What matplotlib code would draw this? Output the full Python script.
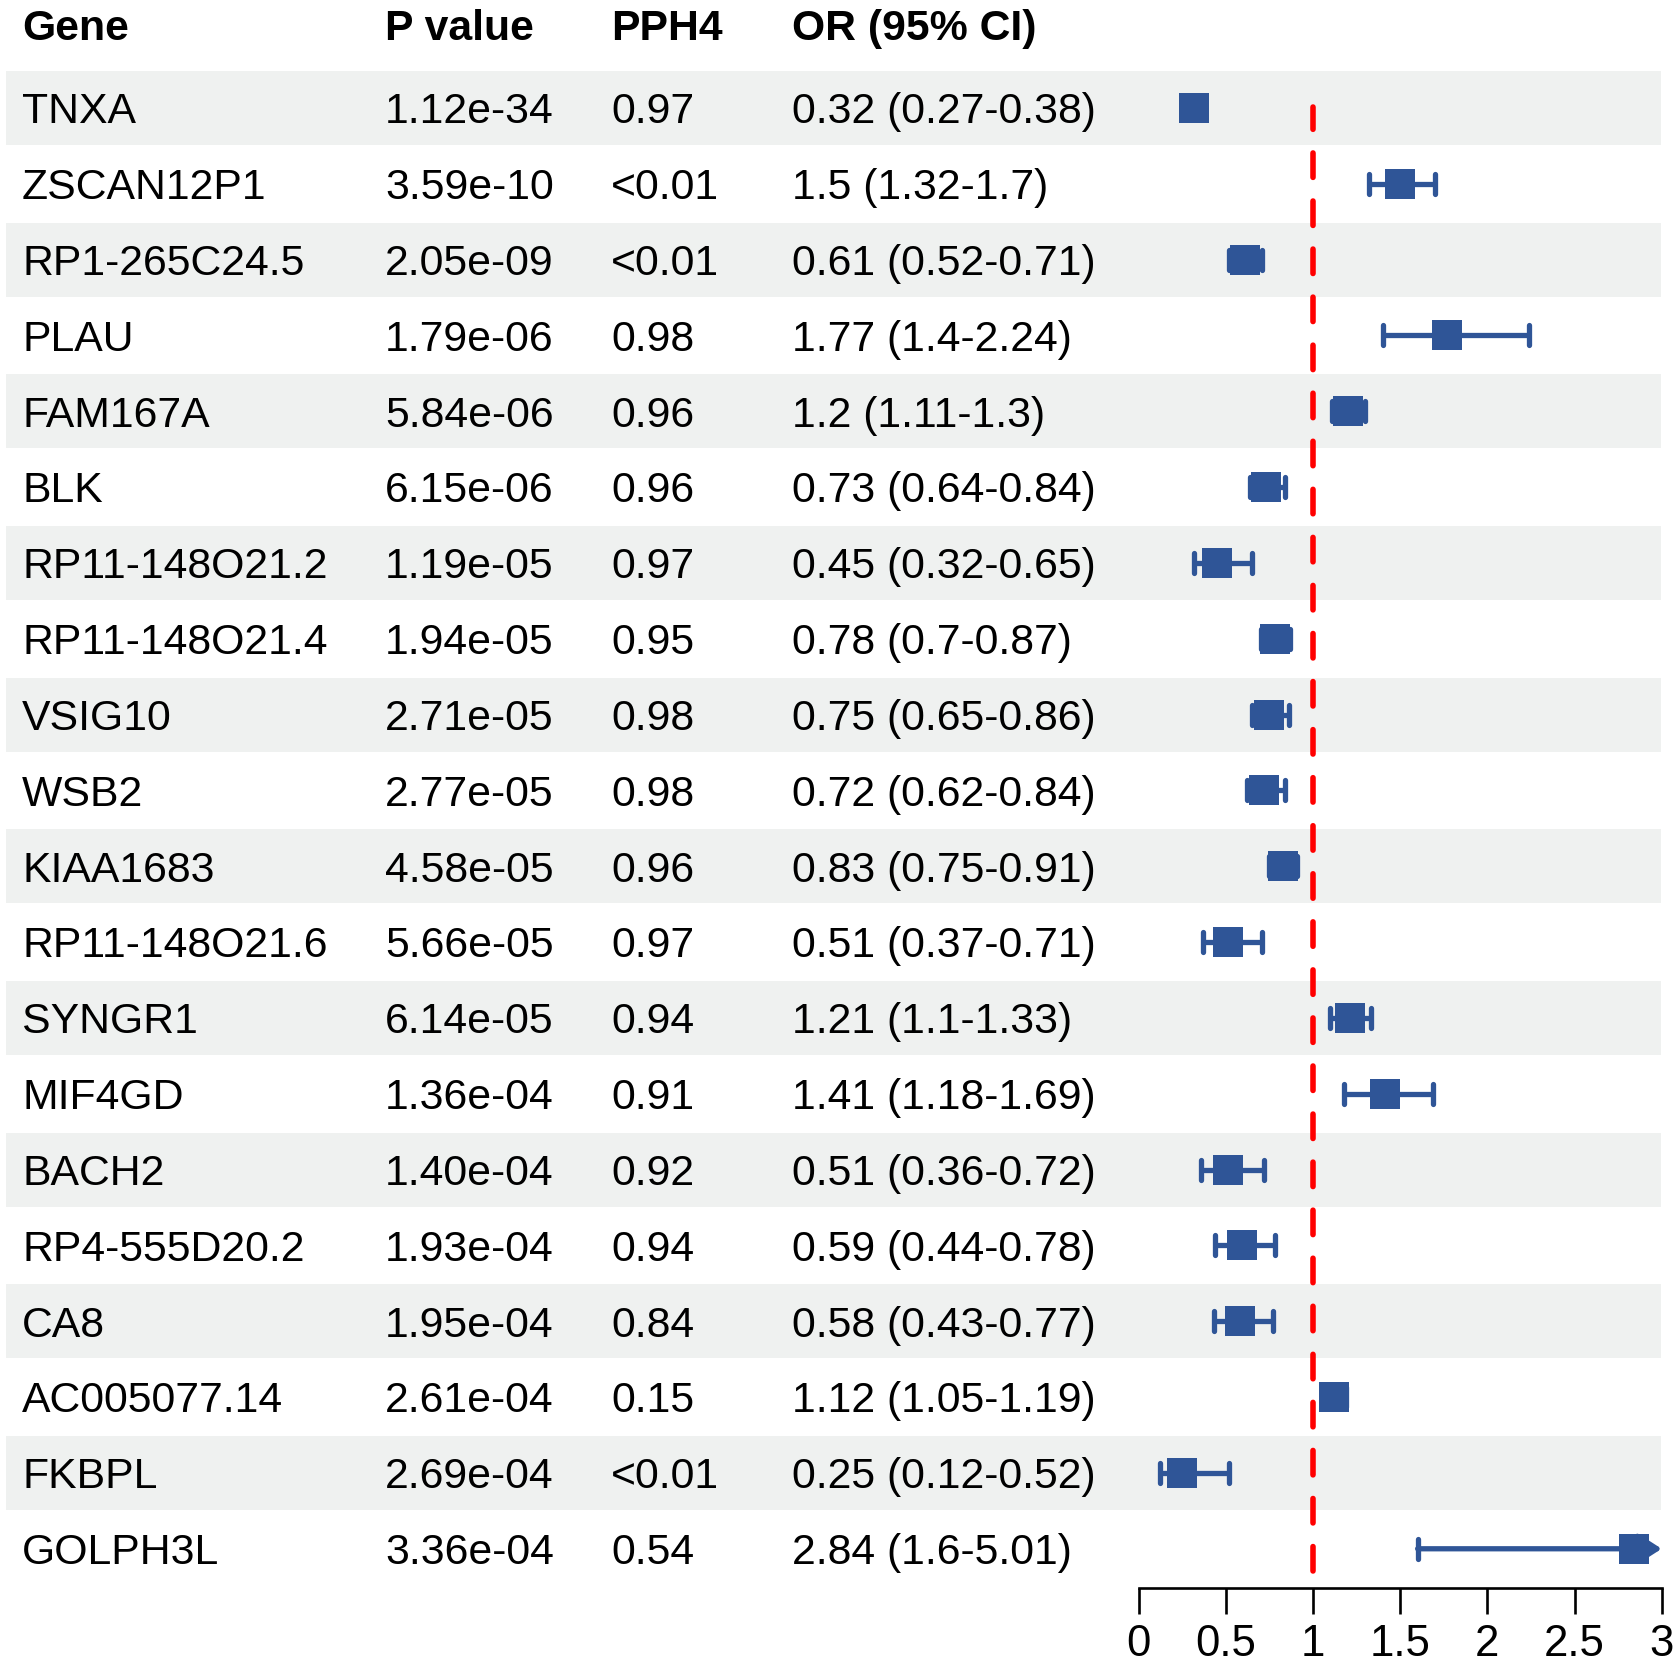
import matplotlib
matplotlib.use("Agg")
import matplotlib.pyplot as plt
from matplotlib.markers import MarkerStyle
import numpy as np

plt.rcParams['font.family'] = ['Liberation Sans', 'DejaVu Sans']

# ---------------- data ----------------
genes = ["TNXA", "ZSCAN12P1", "RP1-265C24.5", "PLAU", "FAM167A", "BLK",
         "RP11-148O21.2", "RP11-148O21.4", "VSIG10", "WSB2", "KIAA1683",
         "RP11-148O21.6", "SYNGR1", "MIF4GD", "BACH2", "RP4-555D20.2", "CA8",
         "AC005077.14", "FKBPL", "GOLPH3L"]
pvalues = ["1.12e-34", "3.59e-10", "2.05e-09", "1.79e-06", "5.84e-06", "6.15e-06",
           "1.19e-05", "1.94e-05", "2.71e-05", "2.77e-05", "4.58e-05", "5.66e-05",
           "6.14e-05", "1.36e-04", "1.40e-04", "1.93e-04", "1.95e-04", "2.61e-04",
           "2.69e-04", "3.36e-04"]
pph4 = ["0.97", "<0.01", "<0.01", "0.98", "0.96", "0.96", "0.97", "0.95", "0.98",
        "0.98", "0.96", "0.97", "0.94", "0.91", "0.92", "0.94", "0.84", "0.15",
        "<0.01", "0.54"]
or_est = [0.32, 1.5, 0.61, 1.77, 1.2, 0.73, 0.45, 0.78, 0.75, 0.72, 0.83, 0.51,
          1.21, 1.41, 0.51, 0.59, 0.58, 1.12, 0.25, 2.84]
or_low = [0.27, 1.32, 0.52, 1.4, 1.11, 0.64, 0.32, 0.7, 0.65, 0.62, 0.75, 0.37,
          1.1, 1.18, 0.36, 0.44, 0.43, 1.05, 0.12, 1.6]
or_high = [0.38, 1.7, 0.71, 2.24, 1.3, 0.84, 0.65, 0.87, 0.86, 0.84, 0.91, 0.71,
           1.33, 1.69, 0.72, 0.78, 0.77, 1.19, 0.52, 5.01]
headers = ["Gene", "P value", "PPH4", "OR (95% CI)"]
xticks = [0, 0.5, 1, 1.5, 2, 2.5, 3]
xtick_labels = ["0", "0.5", "1", "1.5", "2", "2.5", "3"]
ref_value = 1

# ---------------- layout ----------------
W, H = 1680, 1664
row0_px, step_px = 108.0, 75.83
axis_px = 1588.0
top_px = row0_px - 0.5 * step_px
n = len(genes)
idx = np.arange(n)
y_bottom = (axis_px - row0_px) / step_px

BLUE = "#2F5597"
BAND = "#EFF1F0"
FS = 30.8

fig = plt.figure(figsize=(W / 100, H / 100), dpi=100)
ax_bottom = 1 - axis_px / H
ax_height = (axis_px - top_px) / H

# background/table axes (x in pixels)
tax = fig.add_axes([0, ax_bottom, 1, ax_height])
tax.set_xlim(0, W)
tax.set_ylim(y_bottom, -0.5)
tax.axis("off")

band_left, band_right = 6, 1661
tax.barh(idx[::2], width=band_right - band_left, left=band_left,
         height=74 / step_px, color=BAND, zorder=0, linewidth=0)

col_x = [22, 385, 611, 792]
or_text = [f"{e:g} ({l:g}-{h:g})" for e, l, h in zip(or_est, or_low, or_high)]
columns = [genes, pvalues, pph4, or_text]
base_off = 15.3 / step_px
for cx, hdr, vals in zip(col_x, headers, columns):
    tax.text(cx, (40 - row0_px) / step_px, hdr, fontsize=FS, fontweight="bold",
             va="baseline", ha="left", clip_on=False)
    for i, v in enumerate(vals):
        tax.text(cx, i + base_off, v, fontsize=FS, va="baseline", ha="left")

# forest axes
ax = fig.add_axes([1138.7 / W, ax_bottom, (1661.7 - 1138.7) / W, ax_height])
ax.patch.set_alpha(0)
ax.set_xlim(0, 3)
ax.set_ylim(y_bottom, -0.5)
for s in ["top", "right", "left"]:
    ax.spines[s].set_visible(False)
ax.spines["bottom"].set_linewidth(1.9)
ax.spines["bottom"].set_bounds(0, 3)
ax.set_yticks([])
ax.set_xticks(xticks)
ax.set_xticklabels(xtick_labels, fontsize=31.5)
ax.tick_params(axis="x", length=18.7, width=1.9, pad=7, direction="out")

# reference line (dash pattern starts at the bottom)
span = axis_px - top_px
ymin = (axis_px - 1571.2) / span
ymax = (axis_px - 106.8) / span
ax.axvline(ref_value, ymin=ymin, ymax=ymax, color="#FF0000", lw=4.0,
           linestyle=(0, (4.4, 4.25)), dash_capstyle="round", zorder=2)

est = np.array(or_est)
lo = np.array(or_low)
hi = np.array(or_high)
xmax = 3
normal = hi <= xmax
over = ~normal

cap_marker = MarkerStyle("|", capstyle="round")
eb = ax.errorbar(est[normal], idx[normal],
                 xerr=[est[normal] - lo[normal], hi[normal] - est[normal]],
                 fmt="none", ecolor=BLUE, elinewidth=3.8, capsize=7.5,
                 capthick=3.8, zorder=3)
for cl in eb[1]:
    cl.set_marker(cap_marker)
for lc in eb[2]:
    lc.set_capstyle("butt")

for e, l, y in zip(est[over], lo[over], idx[over]):
    ax.annotate("", xy=(xmax, y), xytext=(l, y), annotation_clip=False,
                arrowprops=dict(arrowstyle="-|>,head_length=0.7,head_width=0.45",
                                color=BLUE, lw=3.8, shrinkA=0, shrinkB=0,
                                mutation_scale=20), zorder=3)
    ax.plot([l], [y], marker=cap_marker, ms=15, mew=3.8, color=BLUE,
            linestyle="none", zorder=3)

ax.plot(np.minimum(est, xmax), idx, "s", ms=21, mew=0, color=BLUE, zorder=4,
        linestyle="none")

fig.savefig("out.png", dpi=100)
